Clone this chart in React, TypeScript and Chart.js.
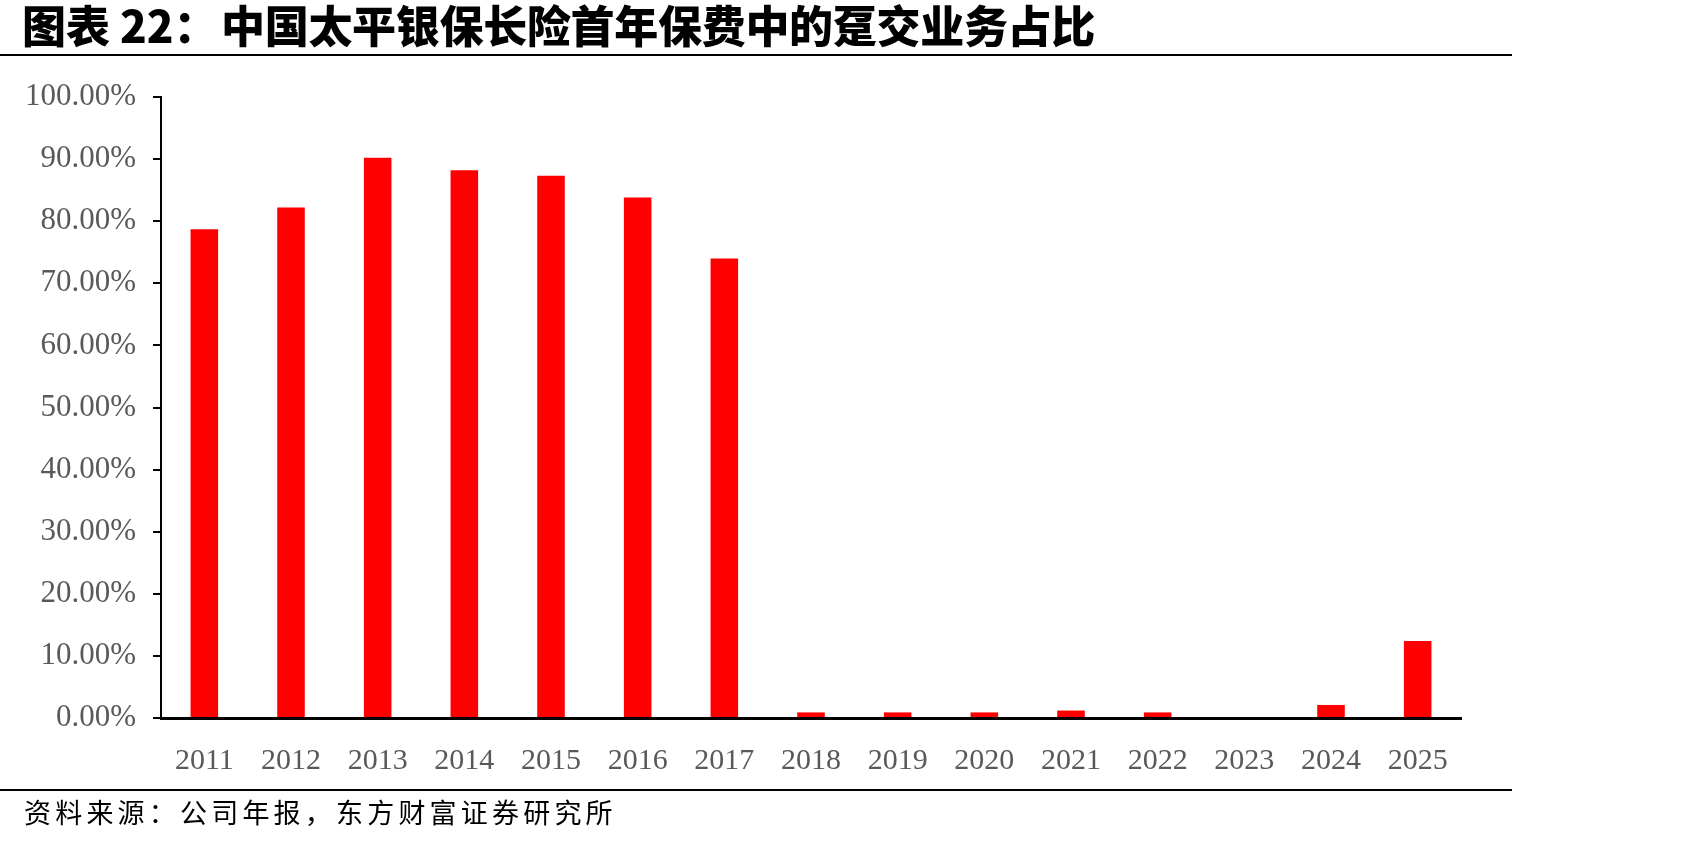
import React, { useEffect, useRef } from "react";
import Chart from "chart.js/auto";

const years = ["2011", "2012", "2013", "2014", "2015", "2016", "2017", "2018", "2019", "2020", "2021", "2022", "2023", "2024", "2025"];
const shares = [78.7, 82.2, 90.2, 88.2, 87.3, 83.8, 74.0, 0.9, 0.9, 0.9, 1.2, 0.9, 0, 2.1, 12.4];
const yMin = 0;
const yMax = 100;
const yStep = 10;
const titlePrefix = "图表 22：";
const titleMain = "中国太平银保长险首年保费中的趸交业务占比";
const sourceText = "资料来源：公司年报，东方财富证券研究所";

export default function App() {
  const ref = useRef<HTMLCanvasElement | null>(null);

  useEffect(() => {
    if (!ref.current) return;
    const chart = new Chart(ref.current, {
      type: "bar",
      data: {
        labels: years,
        datasets: [
          {
            data: shares,
            backgroundColor: "#FF0000",
            borderWidth: 0,
            barPercentage: 0.318,
            categoryPercentage: 1,
          },
        ],
      },
      options: {
        animation: false,
        responsive: false,
        maintainAspectRatio: false,
        devicePixelRatio: 1,
        layout: { padding: { left: 0, right: 240, top: 97, bottom: 44 } },
        plugins: {
          legend: { display: false },
          tooltip: { enabled: false },
          title: { display: false },
        },
        scales: {
          x: {
            z: 1,
            grid: { display: true, drawOnChartArea: false, drawTicks: false },
            border: { display: true, color: "#000000", width: 3 },
            ticks: {
              color: "#595959",
              font: { family: "'Liberation Serif', serif", size: 30 },
              padding: 25,
              maxRotation: 0,
              autoSkip: false,
            },
            afterFit: (s: any) => {
              s.height = 80;
            },
          },
          y: {
            min: yMin,
            max: yMax,
            ticks: {
              stepSize: yStep,
              callback: (v: any) => Number(v).toFixed(2) + "%",
              color: "#595959",
              font: { family: "'Liberation Serif', serif", size: 31 },
              padding: 17,
            },
            grid: {
              display: true,
              drawOnChartArea: false,
              drawTicks: true,
              tickLength: 8,
              color: "#000000",
              lineWidth: 2,
            },
            border: { display: true, color: "#000000", width: 2 },
            afterFit: (s: any) => {
              s.width = 161;
            },
          },
        },
      },
    });
    return () => chart.destroy();
  }, []);

  const titleStyle: React.CSSProperties = {
    position: "absolute",
    top: 2,
    fontFamily: "'Noto Sans CJK SC', sans-serif",
    fontWeight: 900,
    fontSize: 44,
    lineHeight: "44px",
    color: "#000",
    whiteSpace: "nowrap",
  };

  return (
    <div
      style={{
        position: "fixed",
        left: 0,
        top: 0,
        width: 1701,
        height: 842,
        background: "#ffffff",
        overflow: "hidden",
      }}
    >
      <canvas
        ref={ref}
        width={1701}
        height={842}
        style={{ position: "absolute", left: 0, top: 0, display: "block" }}
      />
      <div style={{ ...titleStyle, left: 22, letterSpacing: 0 }}>{titlePrefix}</div>
      <div style={{ ...titleStyle, left: 221, letterSpacing: -0.3 }}>{titleMain}</div>
      <div
        style={{
          position: "absolute",
          left: 0,
          top: 54,
          width: 1512,
          height: 2,
          background: "#000",
        }}
      />
      <div
        style={{
          position: "absolute",
          left: 0,
          top: 789,
          width: 1512,
          height: 2,
          background: "#000",
        }}
      />
      <div
        style={{
          position: "absolute",
          left: 24,
          top: 798,
          fontFamily: "'Noto Sans CJK SC', sans-serif",
          fontWeight: 400,
          fontSize: 27,
          lineHeight: "27px",
          color: "#000",
          whiteSpace: "nowrap",
          letterSpacing: 4.2,
        }}
      >
        {sourceText}
      </div>
    </div>
  );
}
